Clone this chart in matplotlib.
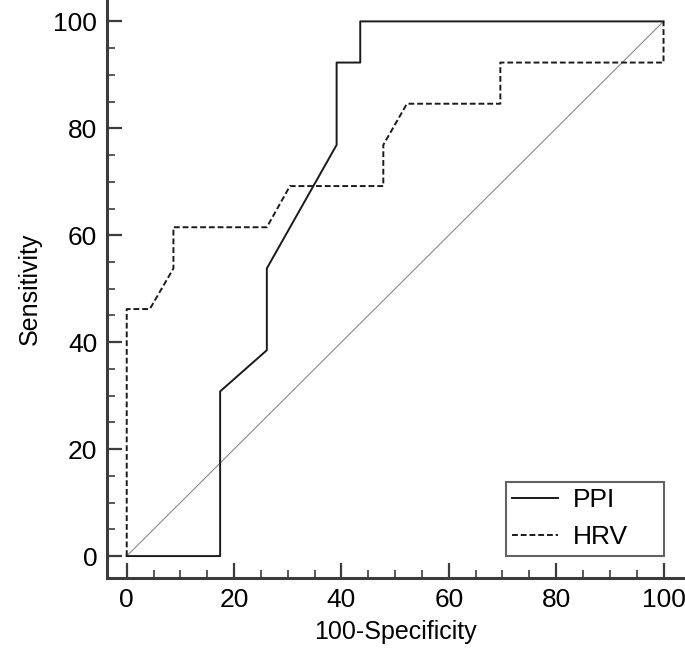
import matplotlib.pyplot as plt

plt.rcParams['font.family'] = ['Liberation Sans', 'DejaVu Sans']

# ROC points (100-Specificity, Sensitivity)
ppi_x = [0, 17.4, 17.4, 26.1, 26.1, 39.1, 39.1, 43.5, 43.5, 100]
ppi_y = [0, 0, 30.8, 38.5, 53.8, 76.9, 92.3, 92.3, 100, 100]

hrv_x = [0, 0, 4.3, 8.7, 8.7, 26.1, 30.4, 47.8, 47.8, 52.2, 69.6, 69.6, 100, 100]
hrv_y = [0, 46.2, 46.2, 53.8, 61.5, 61.5, 69.2, 69.2, 76.9, 84.6, 84.6, 92.3, 92.3, 100]

ref_line = [0, 100]

major_ticks = [0, 20, 40, 60, 80, 100]
minor_ticks = [v for v in range(0, 101, 5) if v % 20]

axis_col = '#3c3c3c'

fig = plt.figure(figsize=(6.85, 6.52), dpi=100)
ax = fig.add_axes([0.156, 0.1135, 0.844, 0.8865])

ax.plot(ref_line, ref_line, color='#8a8a8a', lw=0.8)
ax.plot(ppi_x, ppi_y, color='#1a1a1a', lw=1.4, label='PPI')
ax.plot(hrv_x, hrv_y, color='#1a1a1a', lw=1.4, ls=(0, (3, 1.5)), label='HRV')

ax.set_xlim(-3.7, 104)
ax.set_ylim(-4.1, 104)
for s in ['top', 'right']:
    ax.spines[s].set_visible(False)
for s in ['left', 'bottom']:
    ax.spines[s].set_linewidth(2.2)
    ax.spines[s].set_color(axis_col)

ax.set_xticks(major_ticks)
ax.set_yticks(major_ticks)
ax.set_xticks(minor_ticks, minor=True)
ax.set_yticks(minor_ticks, minor=True)
ax.tick_params(which='major', direction='in', length=11, width=1.6, color=axis_col,
               labelsize=19, pad=7)
ax.tick_params(which='minor', direction='in', length=6, width=1.2, color=axis_col)

ax.set_xlabel('100-Specificity', fontsize=18, labelpad=6)
ax.set_ylabel('Sensitivity', fontsize=18, labelpad=8)

leg = ax.legend(loc='lower left', fontsize=19, frameon=True, fancybox=False,
                handlelength=1.75, handletextpad=0.55, borderpad=0.25,
                borderaxespad=0, mode='expand',
                bbox_to_anchor=(70.6, 0, 29.4, 14), bbox_transform=ax.transData)
leg.get_frame().set_edgecolor(axis_col)
leg.get_frame().set_linewidth(1.5)

fig.savefig('out.png', dpi=100)
